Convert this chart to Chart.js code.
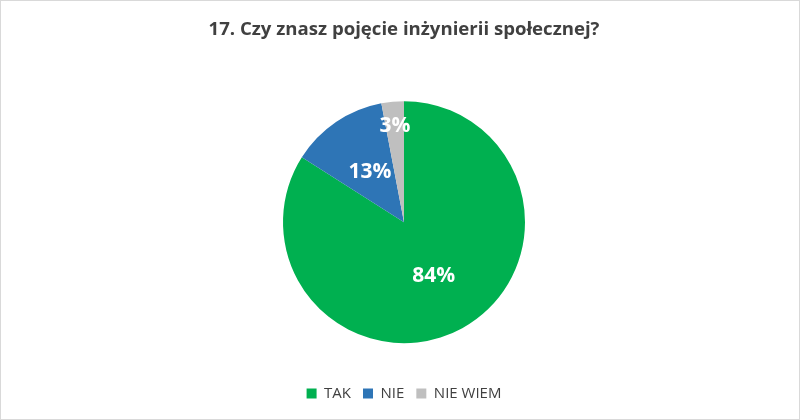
<!DOCTYPE html>
<html>
<head>
<meta charset="utf-8">
<script src="https://cdn.jsdelivr.net/npm/chart.js@4"></script>
<style>
html,body{margin:0;padding:0;background:#fff;}
#wrap{position:relative;width:800px;height:420px;box-sizing:border-box;border:1px solid #d9d9d9;}
canvas{display:block;}
</style>
</head>
<body>
<div id="wrap"><canvas id="c" width="798" height="418"></canvas></div>
<script>
const titleText = "17. Czy znasz pojęcie inżynierii społecznej?";
const categories = ["TAK", "NIE", "NIE WIEM"];
const values = [84, 13, 3];
const colors = ["#00B050", "#2E75B6", "#BFBFBF"];
const labelRadii = [0.51, 0.5, 0.8];

const labelPlugin = {
  id: "sliceLabels",
  afterDatasetsDraw(chart) {
    const ctx = chart.ctx;
    const meta = chart.getDatasetMeta(0);
    ctx.save();
    ctx.fillStyle = "#ffffff";
    ctx.font = "bold 21px 'Open Sans', sans-serif";
    ctx.textAlign = "center";
    ctx.textBaseline = "middle";
    meta.data.forEach((arc, i) => {
      const p = arc.getProps(["x","y","startAngle","endAngle","outerRadius"], true);
      const mid = (p.startAngle + p.endAngle) / 2;
      const r = p.outerRadius * labelRadii[i];
      ctx.fillText(values[i] + "%", p.x + Math.cos(mid) * r, p.y + Math.sin(mid) * r);
    });
    ctx.restore();
  }
};

new Chart(document.getElementById("c"), {
  type: "pie",
  data: {
    labels: categories,
    datasets: [{ data: values, backgroundColor: colors, borderWidth: 0, radius: 121 }]
  },
  options: {
    responsive: false,
    animation: false,
    layout: { padding: { top: 18, bottom: 8, left: 8 } },
    plugins: {
      title: {
        display: true,
        text: titleText,
        color: "#404040",
        font: { family: "'Open Sans', sans-serif", size: 18.6, weight: "bold" },
        padding: { top: 0, bottom: 29 }
      },
      legend: {
        position: "bottom",
        labels: {
          color: "#404040",
          font: { family: "'Open Sans', sans-serif", size: 15 },
          boxWidth: 10, boxHeight: 10, padding: 12
        }
      },
      tooltip: { enabled: false }
    }
  },
  plugins: [labelPlugin]
});
</script>
</body>
</html>
